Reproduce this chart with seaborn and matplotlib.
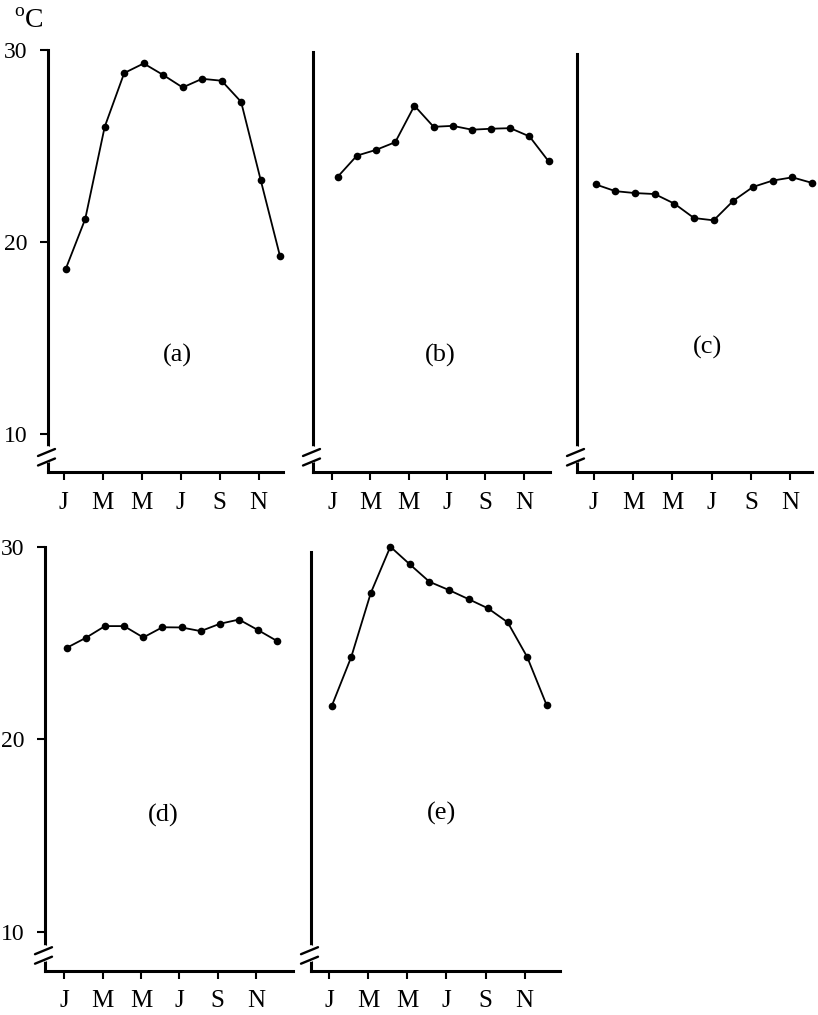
import numpy as np
import pandas as pd
import matplotlib
matplotlib.use("Agg")
import matplotlib.pyplot as plt
from matplotlib.lines import Line2D
from matplotlib.transforms import IdentityTransform
import seaborn as sns

# Monthly mean temperatures (deg C), January..December
months = np.arange(12)
month_names = ["J", "F", "M", "A", "M", "J", "J", "A", "S", "O", "N", "D"]
tick_labels = ["J", "M", "M", "J", "S", "N"]

temp_a = [18.6, 21.2, 26.0, 28.8, 29.3, 28.7, 28.05, 28.5, 28.4, 27.3, 23.25, 19.25]
temp_b = [23.4, 24.5, 24.8, 25.2, 27.1, 26.0, 26.05, 25.85, 25.9, 25.93, 25.5, 24.2]
temp_c = [23.0, 22.65, 22.55, 22.5, 22.0, 21.25, 21.13, 22.15, 22.87, 23.2, 23.37, 23.08]
temp_d = [24.75, 25.27, 25.88, 25.88, 25.29, 25.82, 25.81, 25.62, 26.0, 26.22, 25.67, 25.1]
temp_e = [21.73, 24.28, 27.6, 30.0, 29.08, 28.18, 27.75, 27.28, 26.8, 26.08, 24.28, 21.77]

panel_names = ["(a)", "(b)", "(c)", "(d)", "(e)"]
series = [temp_a, temp_b, temp_c, temp_d, temp_e]
yticks = [10, 20, 30]

sns.set_theme(style="white")
plt.rcParams["font.family"] = ["Liberation Serif", "DejaVu Serif"]
plt.rcParams["mathtext.fontset"] = "custom"
plt.rcParams["mathtext.rm"] = "Liberation Serif"

W, H = 818, 1015
fig = plt.figure(figsize=(W / 100, H / 100), dpi=100)
fig.patch.set_facecolor("white")

# pixel frame of each panel: left, right, top, bottom, x-limits, tick shift,
# panel-label position (axes fraction), show y labels, top of left spine
layout = [
    (48, 283, 50.0, 472.5, (-0.91, 11.15), -0.10, (0.549, 0.278), True, 30.0),
    (313, 550, 50.0, 472.5, (-1.29, 11.07), -0.30, (0.539, 0.278), False, 29.9),
    (577, 812, 50.0, 472.5, (-0.95, 11.00), -0.10, (0.557, 0.297), False, 29.8),
    (45, 293, 546.7, 970.7, (-1.13, 11.82), -0.12, (0.476, 0.367), True, 30.0),
    (311, 560, 546.7, 970.7, (-1.06, 11.68), -0.13, (0.525, 0.372), False, 29.75),
]

spine_lw = 2.2
for name, temps, (l, r, t, b, xlim, tshift, lab, ylab, ytop) in zip(panel_names, series, layout):
    ax = fig.add_axes([l / W, 1 - b / H, (r - l) / W, (b - t) / H])
    df = pd.DataFrame({"month": months, "temp": temps})
    sns.lineplot(data=df, x="month", y="temp", ax=ax, color="black",
                 linewidth=1.3, marker="o", markersize=5.5, markeredgewidth=0,
                 clip_on=False)
    ax.set_xlim(*xlim)
    ax.set_ylim(8.0, 30.0)
    ax.set_xlabel("")
    ax.set_ylabel("")
    for s in ["top", "right"]:
        ax.spines[s].set_visible(False)
    for s in ["left", "bottom"]:
        ax.spines[s].set_linewidth(spine_lw)
        ax.spines[s].set_color("black")
    ax.spines["left"].set_bounds(8.0, ytop)
    ax.set_xticks(np.arange(0, 12, 2) + tshift)
    ax.set_xticklabels(tick_labels, fontsize=18)
    ax.tick_params(axis="x", direction="out", length=6, width=1.5,
                   pad=8, colors="black", bottom=True)
    if ylab:
        ax.set_yticks(yticks)
        ax.set_yticklabels([str(v) for v in yticks], fontsize=17)
        ax.tick_params(axis="y", direction="out", length=6, width=1.5,
                       pad=9, colors="black", left=True)
    else:
        ax.set_yticks([])
    ax.text(lab[0], lab[1], name, transform=ax.transAxes, fontsize=19,
            ha="center", va="center", color="black")

    # axis break: gap in the left spine crossed by two slashes
    fig.canvas.draw()
    x0, y0 = ax.transAxes.transform((0, 0))
    gap = Line2D([x0, x0], [y0 + 12, y0 + 23], transform=IdentityTransform(),
                 color="white", linewidth=spine_lw + 2, zorder=5, clip_on=False)
    ax.add_line(gap)
    for dy in (10.0, 19.5):
        slash = Line2D([x0 - 10, x0 + 7], [y0 + dy - 3, y0 + dy + 4],
                       transform=IdentityTransform(), color="black",
                       linewidth=1.7, zorder=6, clip_on=False)
        ax.add_line(slash)

fig.text(14 / W, 1 - 22 / H, r"$^{\mathrm{o}}$C", fontsize=20,
         ha="left", va="center", color="black")

fig.savefig("out.png", dpi=100, facecolor="white")
